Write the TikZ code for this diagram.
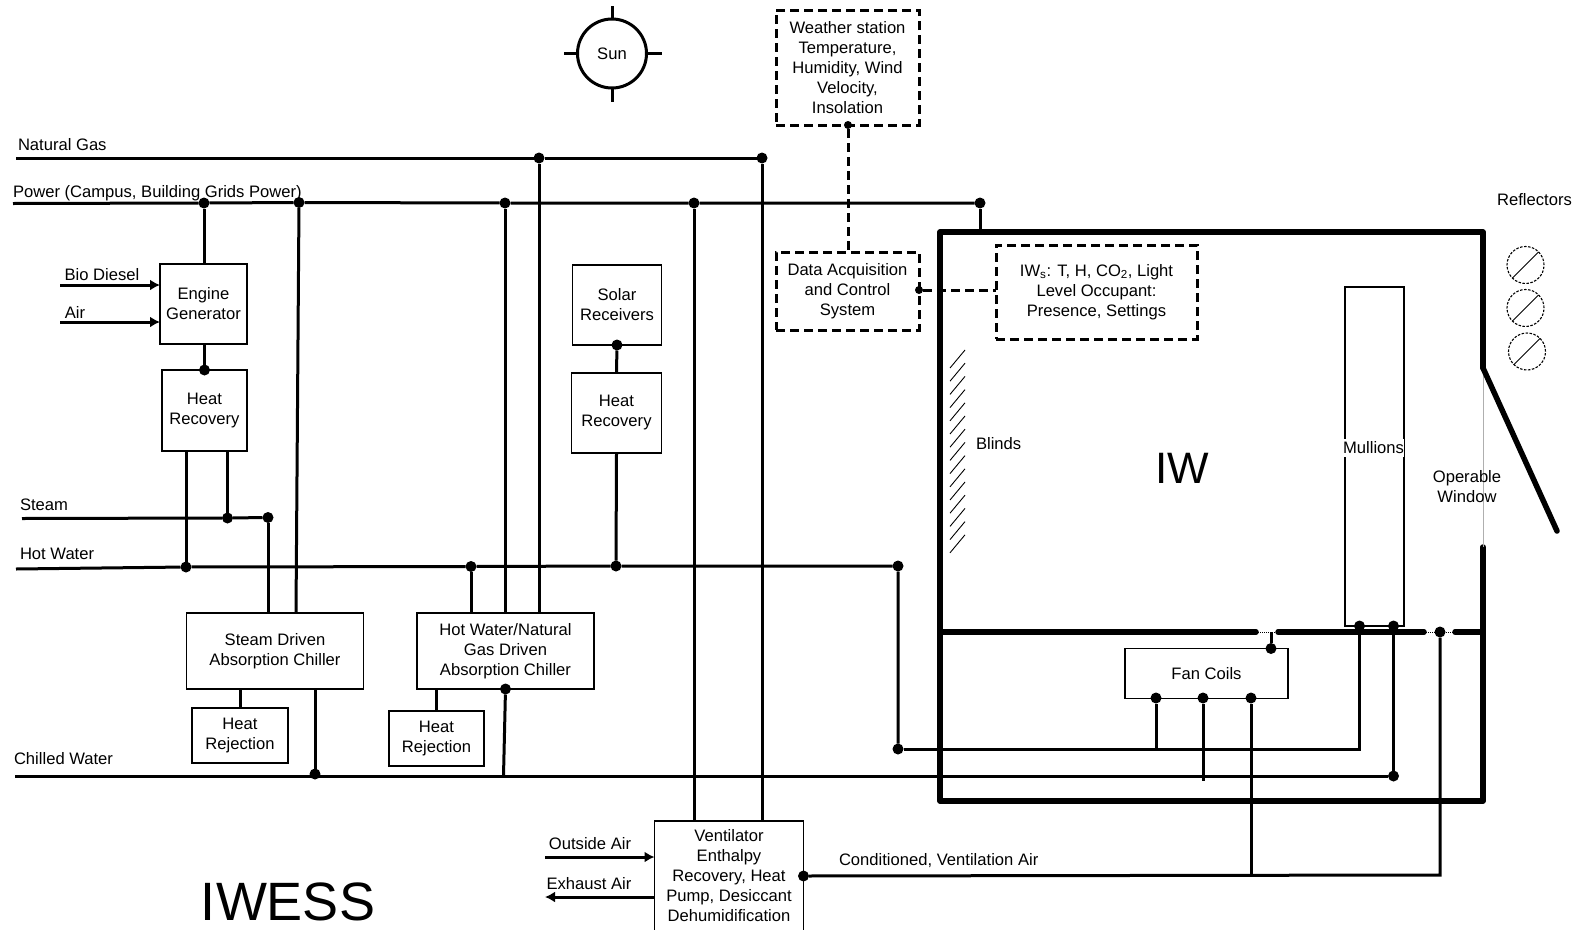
\documentclass[tikz,border=0pt]{standalone}
\usepackage{fontspec}
\setmainfont{Liberation Sans}
\usepackage{tikz}
\usetikzlibrary{arrows.meta,positioning,calc}
\definecolor{softgray}{RGB}{175,175,175}
\tikzset{
  unit/.style={draw,line width=1.3pt,align=center,inner sep=0pt,outer sep=0pt},
  sensorbox/.style={draw,line width=3pt,dash pattern=on 9pt off 5pt,align=center,inner sep=0pt,outer sep=0pt},
  lbl/.style={inner sep=0pt,outer sep=0pt,align=center},
  jdot/.style={circle,fill=black,inner sep=0pt,outer sep=0pt,minimum size=11pt},
  pipe/.style={line width=3pt},
  signal/.style={line width=3pt,dash pattern=on 9pt off 5pt},
  wall/.style={line width=5.5pt,line cap=round,line join=round},
  flow/.style={line width=3pt,-{Latex[length=10pt,width=11pt]}},
  refl/.style={circle,draw,line width=1.1pt,dash pattern=on 2.5pt off 1.5pt,minimum size=37pt,inner sep=0pt,outer sep=0pt}
}
\begin{document}
\begin{tikzpicture}[x=1pt,y=-1pt,every node/.style={font=\fontsize{16.6}{20}\selectfont}]
  \useasboundingbox (0,0) rectangle (1579,929);

  \node[circle,draw,line width=3pt,minimum size=69pt,inner sep=0pt,outer sep=0pt] (sun) at (612,53.5) {Sun};
  \foreach \a/\dx/\dy in {north/0/-13,south/0/14,west/-14/0,east/15/0}
    \draw[pipe] (sun.\a) -- ++(\dx,\dy);

  \node[sensorbox,minimum width=143pt,minimum height=115pt] (weather) at (847.5,67.5) {Weather station\\Temperature,\\Humidity, Wind\\Velocity,\\Insolation};
  \node[sensorbox,minimum width=143pt,minimum height=78pt] (daq) at (847.5,291) {Data Acquisition\\and Control\\System};
  \node[sensorbox,minimum width=201pt,minimum height=94pt] (iws) at (1096.5,292) {IW\textsubscript{s}: T, H, CO\textsubscript{2}, Light\\Level Occupant:\\Presence, Settings};
  \node[jdot,minimum size=8pt] (jwx) at (848,125) {};
  \node[jdot,minimum size=8pt] (jdaq) at (919,290) {};
  \draw[signal] (jwx) -- (jwx |- daq.north);
  \draw[signal] (jdaq) -- (jdaq -| iws.west);

  \node[lbl,anchor=west] (lgas) at (18,145) {Natural Gas};
  \node[lbl,anchor=west] (lpower) at (13,193) {Power (Campus, Building Grids Power)};
  \node[lbl,anchor=west] (lsteam) at (20,505) {Steam};
  \node[lbl,anchor=west] (lhot) at (20,554) {Hot Water};
  \node[lbl,anchor=west] (lchill) at (14,759) {Chilled Water};
  \node[lbl] (lbio) at (102,275) {Bio Diesel};
  \node[lbl] (lair) at (75,312) {Air};
  \node[lbl] (lout) at (590,844) {Outside Air};
  \node[lbl] (lexh) at (589,884) {Exhaust Air};
  \node[lbl,anchor=west] (lcond) at (839,860.5) {Conditioned, Ventilation Air};
  \node[lbl,font=\fontsize{54}{60}\selectfont] (liwess) at (288,902) {IWESS};

  \node[unit,minimum width=87pt,minimum height=80pt] (engine) at (203.5,304) {Engine\\Generator};
  \node[unit,minimum width=85pt,minimum height=81pt] (hr1) at (204.5,410.5) {Heat\\Recovery};
  \node[unit,minimum width=89pt,minimum height=80pt] (solar) at (617,305) {Solar\\Receivers};
  \node[unit,minimum width=90pt,minimum height=80pt] (hr2) at (616.5,413) {Heat\\Recovery};
  \node[unit,minimum width=177pt,minimum height=76pt] (steamch) at (275,651) {Steam Driven\\Absorption Chiller};
  \node[unit,minimum width=177pt,minimum height=76pt] (hwch) at (505.5,651) {Hot Water/Natural\\Gas Driven\\Absorption Chiller};
  \node[unit,minimum width=96pt,minimum height=55pt] (rej1) at (240,735.5) {Heat\\Rejection};
  \node[unit,minimum width=95pt,minimum height=55pt] (rej2) at (436.5,738.5) {Heat\\Rejection};
  \node[unit,minimum width=149pt,minimum height=110pt] (vent) at (729,876) {Ventilator\\Enthalpy\\Recovery, Heat\\Pump, Desiccant\\Dehumidification};
  \node[unit,minimum width=163pt,minimum height=50pt] (fan) at (1206.5,673.5) {Fan Coils};

  \coordinate (gasw) at (16,158);
  \coordinate (powerw) at (13,203.5);
  \coordinate (steamw) at (22,518.5);
  \coordinate (hotw) at (16,569);
  \coordinate (chillw) at (15,776);

  \node[jdot] (jgas1) at (539,158) {};
  \node[jdot] (jgas2) at (762,158) {};
  \node[jdot] (jp1) at (204,203) {};
  \node[jdot] (jp2) at (299,202.5) {};
  \node[jdot] (jp3) at (505,203) {};
  \node[jdot] (jp4) at (694,203) {};
  \node[jdot] (jp5) at (980,203) {};
  \node[jdot] (jeng) at (204.5,370) {};
  \node[jdot] (jsol) at (617,345) {};
  \node[jdot] (js1) at (227.5,518) {};
  \node[jdot] (js2) at (268,517.5) {};
  \node[jdot] (jh1) at (186,567) {};
  \node[jdot] (jh2) at (471,566.5) {};
  \node[jdot] (jh3) at (616,566) {};
  \node[jdot] (jh4) at (898,566) {};
  \node[jdot] (jhr) at (898,749) {};
  \node[jdot] (jc1) at (315,774) {};
  \node[jdot] (jc2) at (1393.5,776) {};
  \node[jdot] (jhw) at (505.5,689) {};
  \node[jdot] (jvent) at (803.5,876) {};
  \node[jdot] (jm1) at (1359.5,626) {};
  \node[jdot] (jm2) at (1393.5,626) {};
  \node[jdot] (jw) at (1440,632) {};
  \node[jdot] (jf0) at (1271,648.5) {};
  \node[jdot] (jf1) at (1156,698) {};
  \node[jdot] (jf2) at (1203,698) {};
  \node[jdot] (jf3) at (1251,698) {};

  \draw[pipe] (gasw) -- (jgas1) -- (jgas2);
  \draw[pipe] (powerw) -- (jp1) -- (jp2) -- (jp3) -- (jp4) -- (jp5);
  \draw[pipe] (steamw) -- (js1) -- (js2);
  \draw[pipe] (hotw) -- (jh1) -- (jh2) -- (jh3) -- (jh4) -- (jhr);
  \draw[pipe] (chillw) -- (jc2);
  \draw[pipe] (jp5) -- (980,232);
  \draw[pipe] (jp1) -- (jp1 |- engine.north);
  \draw[pipe] (jeng) -- (jeng |- engine.south);
  \draw[pipe] (jh1) -- (jh1 |- hr1.south);
  \draw[pipe] (js1) -- (js1 |- hr1.south);
  \draw[pipe] (js2) -- (js2 |- steamch.north);
  \draw[pipe] (jp2) -- (296,613);
  \draw[pipe] (jh2) -- (jh2 |- hwch.north);
  \draw[pipe] (jp3) -- (jp3 |- hwch.north);
  \draw[pipe] (jgas1) -- (jgas1 |- hwch.north);
  \draw[pipe] (jsol) -- (hr2.north);
  \draw[pipe] (hr2.south) -- (jh3);
  \draw[pipe] (jp4) -- (jp4 |- vent.north);
  \draw[pipe] (jgas2) -- (jgas2 |- vent.north);
  \draw[pipe] (rej1.north) -- (rej1.north |- steamch.south);
  \draw[pipe] (rej2.north) -- (rej2.north |- hwch.south);
  \draw[pipe] (315,689) -- (jc1);
  \draw[pipe] (jhw) -- (503.5,776);

  \draw[flow] (60,285) -- (60,285 -| engine.west);
  \draw[flow] (60,322) -- (60,322 -| engine.west);
  \draw[flow] (545,857) -- (545,857 -| vent.west);
  \draw[flow] (545,897 -| vent.west) -- (545,897);

  \draw[pipe] (jhr) -- (jhr -| jm1) -- (jm1);
  \draw[pipe] (jc2) -- (jm2);
  \draw[pipe] (jf1) -- (jf1 |- jhr);
  \draw[pipe] (jf2) -- (1203,781);
  \draw[pipe] (jvent) -- (1440,875) -- (jw);
  \draw[pipe] (jf3) -- (1251,875);

  \draw[wall] (940,632) -- (940,232) -- (1483,232) -- (1483,368);
  \draw[wall] (1483,547) -- (1483,801) -- (940,801) -- (940,632);
  \draw[line width=1pt,softgray] (1483,368) -- (1483,547);
  \draw[wall] (1483,368) -- (1557,531);
  \draw[wall] (940,632) -- (1256,632);
  \draw[wall] (1278,632) -- (1424,632);
  \draw[wall] (1455,632) -- (1483,632);
  \draw[line width=1pt,densely dotted] (1256,632) -- (1278,632);
  \draw[line width=1pt,densely dotted] (1424,632) -- (1455,632);
  \draw[pipe] (jf0) -- (1271,632);

  \foreach \y in {0,...,14}
    \draw[line width=.9pt] (965,{350+13.2*\y}) -- ++(-15,18);
  \node[lbl,anchor=west] (lblinds) at (976,444) {Blinds};
  \node[lbl,font=\fontsize{44}{50}\selectfont] (liw) at (1182,468) {IW};

  \node[draw,line width=1.3pt,minimum width=59pt,minimum height=339pt,inner sep=0pt,outer sep=0pt] (mullion) at (1374.5,456.5) {};
  \node[lbl,fill=white,inner ysep=3pt] (lmull) at (1373.5,448) {Mullions};
  \node[lbl] (lwin) at (1467,487) {Operable\\Window};

  \node[lbl] (lrefl) at (1534.5,199.5) {Reflectors};
  \foreach \n/\x/\y in {ra/1525.5/265,rb/1525.5/308,rc/1527/351.5}{
    \node[refl] (\n) at (\x,\y) {};
    \draw[line width=1pt] (\n.225) -- (\n.45);
  }
\end{tikzpicture}
\end{document}
